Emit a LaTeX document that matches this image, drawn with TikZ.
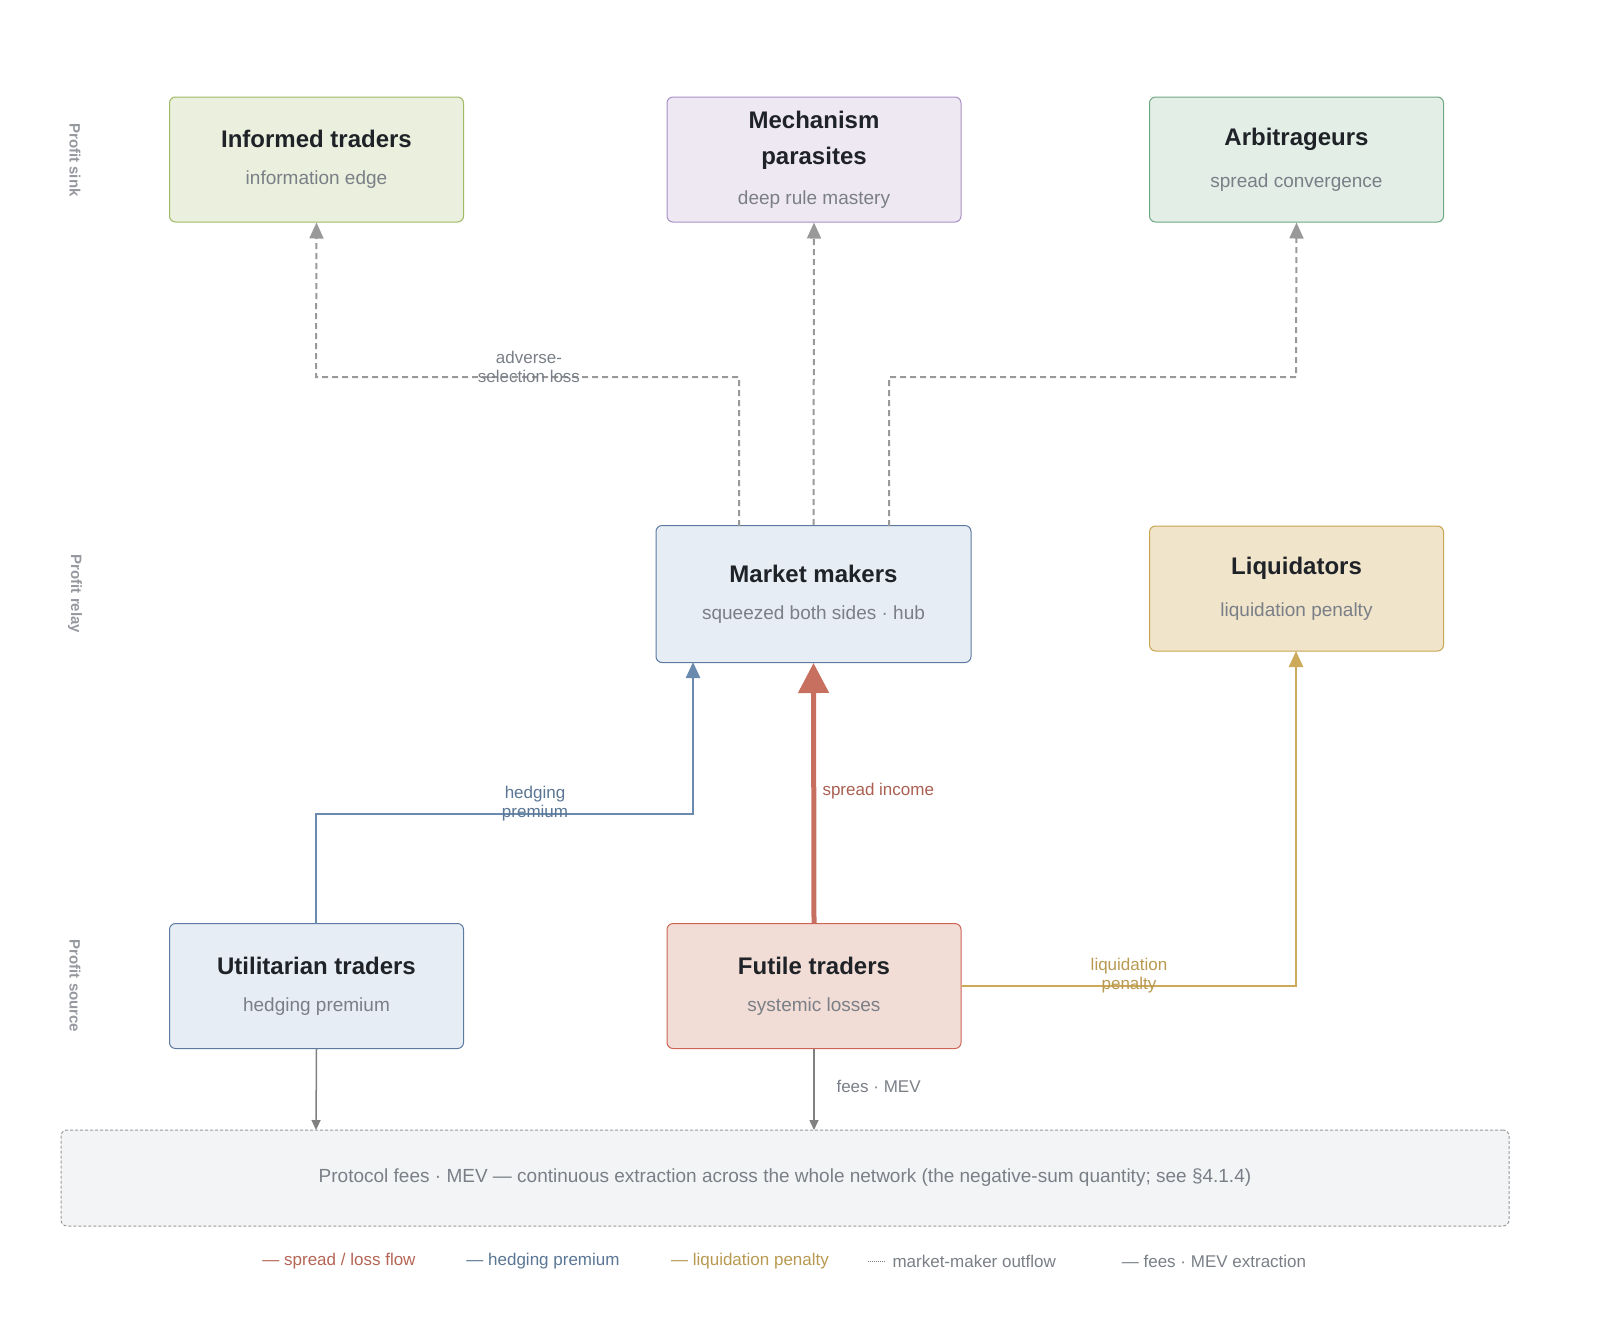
\documentclass[tikz,border=0pt]{standalone}
\usepackage{fontspec}
\setmainfont{Liberation Sans}
\usetikzlibrary{arrows.meta}
\definecolor{tgrey}{HTML}{7A7F87}
\definecolor{dark}{HTML}{1F2328}
\definecolor{cred}{HTML}{C8705F}
\definecolor{cblue}{HTML}{6A8BAE}
\definecolor{cgold}{HTML}{CCAA5A}
\definecolor{cdash}{HTML}{999999}
\newcommand\ttlf{\fontsize{24}{30}\selectfont\bfseries\color{dark}}
\newcommand\subf{\fontsize{19}{23}\selectfont\mdseries\color{tgrey}}
\newcommand\bxtext[2]{{\ttlf #1}\\[22pt]{\subf #2}}
\tikzset{
 box/.style={draw, rounded corners=6pt, line width=1pt, minimum width=294pt, minimum height=125pt, align=center, inner sep=0pt},
 lbl/.style={font=\fontsize{17}{19}\selectfont, align=center},
 side/.style={font=\fontsize{15}{18}\selectfont\bfseries, text=tgrey!80, rotate=-90},
 outf/.style={draw=cdash, dash pattern=on 6pt off 4pt, line width=2pt, -{Triangle[length=16pt,width=14pt]}},
}
\begin{document}
\begin{tikzpicture}[x=1pt,y=-1pt]
\useasboundingbox (0,0) rectangle (1600,1323);
% side labels
\node[side] (s1) at (75,160) {Profit sink};
\node[side] (s2) at (75,594) {Profit relay};
\node[side] (s3) at (75,986) {Profit source};
% boxes
\node[box, draw={rgb,255:red,160;green,185;blue,100}, fill={rgb,255:red,235;green,240;blue,222}] (inf) at (316.5,159.5) {\bxtext{Informed traders}{information edge}};
\node[box, draw={rgb,255:red,168;green,145;blue,196}, fill={rgb,255:red,238;green,232;blue,243}] (mech) at (814,159.5) {{\ttlf Mechanism}\\[18pt]{\ttlf parasites}\\[20pt]{\subf deep rule mastery}};
\node[box, draw={rgb,255:red,110;green,168;blue,130}, fill={rgb,255:red,226;green,238;blue,230}] (arb) at (1296.5,159.5) {\bxtext{Arbitrageurs}{spread convergence}};
\node[box, minimum width=315pt, minimum height=137pt, draw={rgb,255:red,92;green,122;blue,160}, fill={rgb,255:red,231;green,237;blue,245}] (mm) at (813.5,594) {\bxtext{Market makers}{squeezed both sides · hub}};
\node[box, draw={rgb,255:red,200;green,165;blue,80}, fill={rgb,255:red,240;green,228;blue,203}] (liq) at (1296.5,588.5) {\bxtext{Liquidators}{liquidation penalty}};
\node[box, draw={rgb,255:red,92;green,122;blue,160}, fill={rgb,255:red,231;green,237;blue,245}] (util) at (316.5,986) {\bxtext{Utilitarian traders}{hedging premium}};
\node[box, draw={rgb,255:red,205;green,100;blue,85}, fill={rgb,255:red,242;green,221;blue,214}] (fut) at (814,986) {\bxtext{Futile traders}{systemic losses}};
\node[draw=gray!80, dash pattern=on 3pt off 2pt, line width=1pt, rounded corners=6pt, fill={rgb,255:red,243;green,244;blue,246}, minimum width=1448pt, minimum height=96pt, inner sep=0pt, font=\subf] (prot) at (785,1178) {Protocol fees · MEV — continuous extraction across the whole network (the negative-sum quantity; see §4.1.4)};
% coordinates
\coordinate (a1) at (739,526); \coordinate (a2) at (889,526);
\coordinate (h1) at (316,924); \coordinate (ht) at (693,662);
\coordinate (l1) at (961,986); \coordinate (lt) at (1296,651);
% outflows
\draw[outf] (a1) -- (739,377) -- (316,377) -- (inf.south);
\draw[outf] (mm.north) -- (mech.south);
\draw[outf] (a2) -- (889,377) -- (1296,377) -- (arb.south);
\node[lbl, text=tgrey] (t1) at (529,367) {adverse-\\selection loss};
% hedging
\draw[cblue, line width=2.5pt, -{Triangle[length=16pt,width=14pt]}] (h1) -- (316,814) -- (693,814) -- (ht);
\node[lbl, text=cblue!85!black] (t2) at (535,804) {hedging\\premium};
% spread
\draw[cred, line width=5pt, -{Triangle[length=30pt,width=30pt]}] (fut.north) -- (mm.south);
\node[lbl, text=cred!85!black, anchor=west] (t3) at (819,791) {spread income};
% liquidation
\draw[cgold, line width=2.5pt, -{Triangle[length=16pt,width=14pt]}] (l1) -- (1296,986) -- (lt);
\node[lbl, text=cgold!90!black] (t4) at (1129,976) {liquidation\\penalty};
% fees
\draw[gray, line width=1.5pt, -{Triangle[length=10pt,width=9pt]}] (util.south) -- (316,1130);
\draw[gray, line width=1.5pt, -{Triangle[length=10pt,width=9pt]}] (fut.south) -- (814,1130);
\node[lbl, text=tgrey, anchor=west] (t5) at (833,1086) {fees · MEV};
% legend
\node[lbl, text=cred!90!black] (g1) at (339,1261) {— spread / loss flow};
\node[lbl, text=cblue!85!black] (g2) at (543,1261) {— hedging premium};
\node[lbl, text=cgold!90!black] (g3) at (750,1261) {— liquidation penalty};
\draw[gray, densely dotted, line width=1pt] (868,1261) -- (886,1261);
\node[lbl, text=tgrey, anchor=west] (g4) at (889,1261) {market-maker outflow};
\node[lbl, text=tgrey] (g5) at (1214,1261) {— fees · MEV extraction};
\end{tikzpicture}
\end{document}
